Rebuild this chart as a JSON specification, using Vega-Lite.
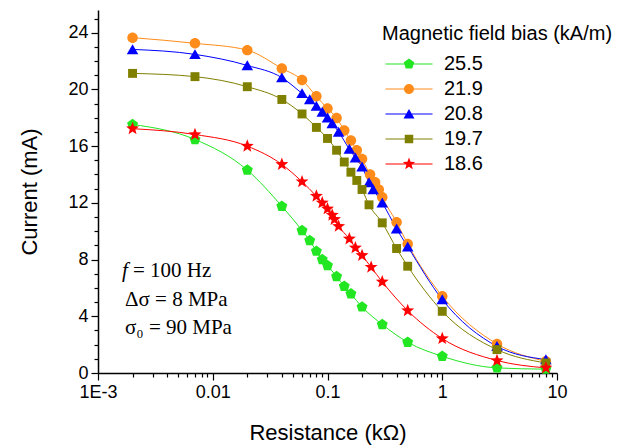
{
  "$schema": "https://vega.github.io/schema/vega-lite/v6.json",
  "width": 459,
  "height": 363,
  "autosize": "none",
  "padding": {"left": 98, "top": 10, "right": 62, "bottom": 73},
  "background": "white",
  "config": {"view": {"stroke": null}, "font": "Liberation Sans"},
  "datasets": {
    "curves": [
      {"bias": "25.5", "r": 0.002, "i": 17.53}, {"bias": "25.5", "r": 0.007, "i": 16.47}, {"bias": "25.5", "r": 0.02, "i": 14.31}, {"bias": "25.5", "r": 0.04, "i": 11.76}, {"bias": "25.5", "r": 0.06, "i": 10.05}, {"bias": "25.5", "r": 0.07, "i": 9.34}, {"bias": "25.5", "r": 0.08, "i": 8.59}, {"bias": "25.5", "r": 0.09, "i": 8.0}, {"bias": "25.5", "r": 0.1, "i": 7.58}, {"bias": "25.5", "r": 0.12, "i": 6.8}, {"bias": "25.5", "r": 0.14, "i": 6.12}, {"bias": "25.5", "r": 0.16, "i": 5.58}, {"bias": "25.5", "r": 0.2, "i": 4.66}, {"bias": "25.5", "r": 0.3, "i": 3.42}, {"bias": "25.5", "r": 0.5, "i": 2.17}, {"bias": "25.5", "r": 1, "i": 1.18}, {"bias": "25.5", "r": 3, "i": 0.36}, {"bias": "25.5", "r": 8, "i": 0.27},
      {"bias": "21.9", "r": 0.002, "i": 23.65}, {"bias": "21.9", "r": 0.007, "i": 23.25}, {"bias": "21.9", "r": 0.02, "i": 22.77}, {"bias": "21.9", "r": 0.04, "i": 21.48}, {"bias": "21.9", "r": 0.06, "i": 20.66}, {"bias": "21.9", "r": 0.08, "i": 19.51}, {"bias": "21.9", "r": 0.1, "i": 18.65}, {"bias": "21.9", "r": 0.12, "i": 17.99}, {"bias": "21.9", "r": 0.14, "i": 17.11}, {"bias": "21.9", "r": 0.16, "i": 16.39}, {"bias": "21.9", "r": 0.18, "i": 15.71}, {"bias": "21.9", "r": 0.2, "i": 15.09}, {"bias": "21.9", "r": 0.235, "i": 14.0}, {"bias": "21.9", "r": 0.26, "i": 13.46}, {"bias": "21.9", "r": 0.28, "i": 12.94}, {"bias": "21.9", "r": 0.3, "i": 12.4}, {"bias": "21.9", "r": 0.4, "i": 10.64}, {"bias": "21.9", "r": 0.5, "i": 9.09}, {"bias": "21.9", "r": 1, "i": 5.41}, {"bias": "21.9", "r": 3, "i": 2.05}, {"bias": "21.9", "r": 8, "i": 0.83},
      {"bias": "20.8", "r": 0.002, "i": 22.82}, {"bias": "20.8", "r": 0.007, "i": 22.47}, {"bias": "20.8", "r": 0.02, "i": 21.69}, {"bias": "20.8", "r": 0.04, "i": 20.83}, {"bias": "20.8", "r": 0.06, "i": 19.72}, {"bias": "20.8", "r": 0.07, "i": 19.29}, {"bias": "20.8", "r": 0.08, "i": 18.82}, {"bias": "20.8", "r": 0.09, "i": 18.41}, {"bias": "20.8", "r": 0.1, "i": 18.0}, {"bias": "20.8", "r": 0.11, "i": 17.6}, {"bias": "20.8", "r": 0.125, "i": 17.0}, {"bias": "20.8", "r": 0.155, "i": 15.79}, {"bias": "20.8", "r": 0.175, "i": 15.18}, {"bias": "20.8", "r": 0.2, "i": 14.54}, {"bias": "20.8", "r": 0.23, "i": 13.44}, {"bias": "20.8", "r": 0.25, "i": 12.94}, {"bias": "20.8", "r": 0.3, "i": 12.0}, {"bias": "20.8", "r": 0.4, "i": 10.17}, {"bias": "20.8", "r": 0.5, "i": 8.91}, {"bias": "20.8", "r": 1, "i": 5.18}, {"bias": "20.8", "r": 3, "i": 1.88}, {"bias": "20.8", "r": 8, "i": 0.95},
      {"bias": "19.7", "r": 0.002, "i": 21.13}, {"bias": "19.7", "r": 0.007, "i": 20.9}, {"bias": "19.7", "r": 0.02, "i": 20.19}, {"bias": "19.7", "r": 0.04, "i": 19.29}, {"bias": "19.7", "r": 0.06, "i": 18.27}, {"bias": "19.7", "r": 0.08, "i": 17.32}, {"bias": "19.7", "r": 0.1, "i": 16.54}, {"bias": "19.7", "r": 0.12, "i": 15.71}, {"bias": "19.7", "r": 0.14, "i": 14.88}, {"bias": "19.7", "r": 0.16, "i": 14.16}, {"bias": "19.7", "r": 0.18, "i": 13.58}, {"bias": "19.7", "r": 0.2, "i": 12.94}, {"bias": "19.7", "r": 0.23, "i": 11.86}, {"bias": "19.7", "r": 0.3, "i": 10.59}, {"bias": "19.7", "r": 0.4, "i": 8.78}, {"bias": "19.7", "r": 0.5, "i": 7.53}, {"bias": "19.7", "r": 1, "i": 4.35}, {"bias": "19.7", "r": 3, "i": 1.65}, {"bias": "19.7", "r": 8, "i": 0.71},
      {"bias": "18.6", "r": 0.002, "i": 17.23}, {"bias": "18.6", "r": 0.007, "i": 16.82}, {"bias": "18.6", "r": 0.02, "i": 16.0}, {"bias": "18.6", "r": 0.04, "i": 14.71}, {"bias": "18.6", "r": 0.06, "i": 13.49}, {"bias": "18.6", "r": 0.08, "i": 12.47}, {"bias": "18.6", "r": 0.09, "i": 12.0}, {"bias": "18.6", "r": 0.1, "i": 11.58}, {"bias": "18.6", "r": 0.11, "i": 11.13}, {"bias": "18.6", "r": 0.115, "i": 10.83}, {"bias": "18.6", "r": 0.125, "i": 10.35}, {"bias": "18.6", "r": 0.155, "i": 9.46}, {"bias": "18.6", "r": 0.175, "i": 8.83}, {"bias": "18.6", "r": 0.2, "i": 8.29}, {"bias": "18.6", "r": 0.24, "i": 7.46}, {"bias": "18.6", "r": 0.3, "i": 6.43}, {"bias": "18.6", "r": 0.5, "i": 4.4}, {"bias": "18.6", "r": 1, "i": 2.43}, {"bias": "18.6", "r": 3, "i": 0.88}, {"bias": "18.6", "r": 8, "i": 0.36}
    ],
    "notes": [
      {"r": 0.002015, "i": 7.16, "t": "= 100 Hz"},
      {"r": 0.00172, "i": 5.18, "t": "Δσ = 8 MPa"},
      {"r": 0.00172, "i": 3.2, "t": "σ₀ = 90 MPa"}
    ],
    "italic": [
      {"r": 0.00162, "i": 7.16, "t": "f"}
    ]
  },
  "encoding": {
    "x": {
      "field": "r", "type": "quantitative",
      "scale": {"type": "log", "domain": [0.001, 10], "nice": false},
      "axis": {
        "title": "Resistance (kΩ)",
        "values": [0.001, 0.002, 0.003, 0.004, 0.005, 0.006, 0.007, 0.008, 0.009, 0.01, 0.02, 0.03, 0.04, 0.05, 0.06, 0.07, 0.08, 0.09, 0.1, 0.2, 0.3, 0.4, 0.5, 0.6, 0.7, 0.8, 0.9, 1, 2, 3, 4, 5, 6, 7, 8, 9, 10],
        "labelExpr": "datum.value == 0.001 ? '1E-3' : (indexof([0.01, 0.1, 1, 10], datum.value) >= 0 ? '' + datum.value : '')",
        "tickSize": {"condition": {"test": "indexof([0.001, 0.01, 0.1, 1, 10], datum.value) >= 0", "value": 7}, "value": 4},
        "labelOverlap": false, "labelFlush": false, "grid": false,
        "domainColor": "black", "domainWidth": 1.5, "tickColor": "black", "tickWidth": 1.2,
        "labelFont": "Liberation Sans", "labelFontSize": 18, "labelColor": "black", "labelPadding": 3,
        "titleFont": "Liberation Sans", "titleFontSize": 22, "titleFontWeight": "normal", "titleColor": "black", "titlePadding": 21
      }
    },
    "y": {
      "field": "i", "type": "quantitative",
      "scale": {"domain": [0, 25.6], "nice": false},
      "axis": {
        "title": "Current (mA)",
        "values": [0, 1, 2, 3, 4, 5, 6, 7, 8, 9, 10, 11, 12, 13, 14, 15, 16, 17, 18, 19, 20, 21, 22, 23, 24, 25],
        "labelExpr": "datum.value % 4 == 0 ? '' + datum.value : ''",
        "tickSize": {"condition": {"test": "datum.value % 4 == 0", "value": 7}, "value": 4},
        "labelOverlap": false, "labelFlush": false, "grid": false,
        "domainColor": "black", "domainWidth": 1.5, "tickColor": "black", "tickWidth": 1.2,
        "labelFont": "Liberation Sans", "labelFontSize": 18, "labelColor": "black", "labelPadding": 3,
        "titleFont": "Liberation Sans", "titleFontSize": 22, "titleFontWeight": "normal", "titleColor": "black", "titlePadding": 26
      }
    }
  },
  "layer": [
    {
      "data": {"name": "curves"},
      "mark": {"type": "line", "interpolate": "monotone", "strokeWidth": 1},
      "encoding": {
        "stroke": {
          "field": "bias", "type": "nominal",
          "scale": {"range": ["#ff0000", "#808000", "#0000ff", "#ff8c1a", "#22e622"]},
          "legend": null
        }
      }
    },
    {
      "data": {"name": "curves"},
      "mark": {"type": "point", "filled": true, "opacity": 1, "size": 110, "strokeWidth": 0},
      "encoding": {
        "color": {
          "field": "bias", "type": "nominal",
          "scale": {"domain": ["25.5", "21.9", "20.8", "19.7", "18.6"], "range": ["#22e622", "#ff8c1a", "#0000ff", "#808000", "#ff0000"]},
          "legend": {
            "title": "Magnetic field bias (kA/m)",
            "orient": "none", "legendX": 284, "legendY": 14, "padding": 0,
            "titleFont": "Liberation Sans", "titleFontSize": 20, "titleFontWeight": "normal", "titleColor": "black", "titleLimit": 400, "titlePadding": 10,
            "labelFont": "Liberation Sans", "labelFontSize": 20, "labelColor": "black", "labelOffset": 25,
            "symbolOffset": 17, "symbolSize": 100, "rowPadding": 5,
            "symbolType": {"expr": "datum.value == '25.5' ? 'M-4.7,-0.1H4.7V0.1H-4.7ZM0,-1.1L1.046,-0.34L0.647,0.89L-0.647,0.89L-1.046,-0.34Z' : datum.value == '21.9' ? 'M-4.7,-0.1H4.7V0.1H-4.7ZM1,0A1,1,0,1,1,-1,0A1,1,0,1,1,1,0Z' : datum.value == '20.8' ? 'M-4.7,-0.1H4.7V0.1H-4.7ZM0,-1L1.1,0.9L-1.1,0.9Z' : datum.value == '19.7' ? 'M-4.7,-0.1H4.7V0.1H-4.7ZM-0.85,-0.85H0.85V0.85H-0.85Z' : 'M-4.7,-0.1H4.7V0.1H-4.7ZM0,-1.3L0.323,-0.445L1.236,-0.402L0.523,0.17L0.764,1.052L0,0.55L-0.764,1.052L-0.523,0.17L-1.236,-0.402L-0.323,-0.445Z'"}
          }
        },
        "shape": {
          "field": "bias", "type": "nominal",
          "scale": {"range": [
            "M0,-1.3L0.323,-0.445L1.236,-0.402L0.523,0.17L0.764,1.052L0,0.55L-0.764,1.052L-0.523,0.17L-1.236,-0.402L-0.323,-0.445Z",
            "M-0.85,-0.85H0.85V0.85H-0.85Z",
            "M0,-1L1.1,0.9L-1.1,0.9Z",
            "M1,0A1,1,0,1,1,-1,0A1,1,0,1,1,1,0Z",
            "M0,-1.1L1.046,-0.34L0.647,0.89L-0.647,0.89L-1.046,-0.34Z"
          ]},
          "legend": null
        }
      }
    },
    {
      "data": {"name": "notes"},
      "mark": {"type": "text", "align": "left", "baseline": "middle", "font": "Liberation Serif", "fontSize": 21, "color": "black"},
      "encoding": {"text": {"field": "t"}}
    },
    {
      "data": {"name": "italic"},
      "mark": {"type": "text", "align": "left", "baseline": "middle", "font": "Liberation Serif", "fontSize": 21, "fontStyle": "italic", "color": "black"},
      "encoding": {"text": {"field": "t"}}
    }
  ]
}
